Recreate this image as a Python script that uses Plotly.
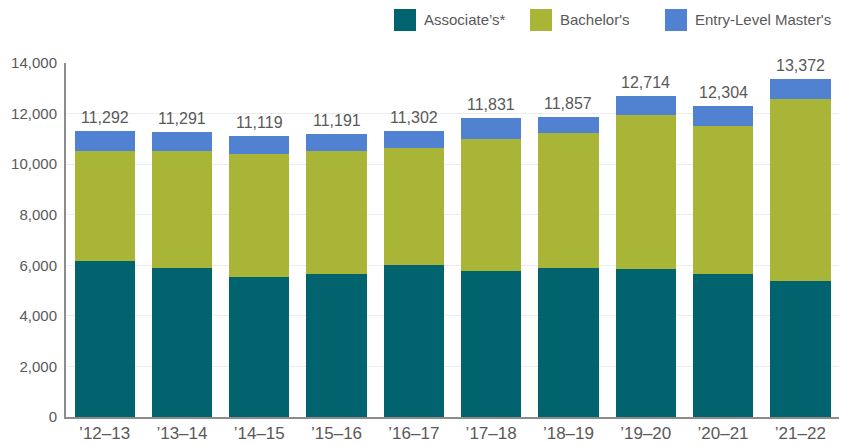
import plotly.graph_objects as go

years = ["’12–13", "’13–14", "’14–15", "’15–16", "’16–17",
         "’17–18", "’18–19", "’19–20", "’20–21", "’21–22"]
associates = [6186, 5910, 5553, 5672, 6000, 5790, 5910, 5870, 5672, 5396]
bachelors = [4342, 4618, 4857, 4856, 4650, 5213, 5330, 6080, 5844, 7186]
masters = [764, 763, 709, 663, 652, 828, 617, 764, 788, 790]
totals = [11292, 11291, 11119, 11191, 11302, 11831, 11857, 12714, 12304, 13372]
series_names = ["Associate’s*", "Bachelor's", "Entry-Level Master's"]
colors = ["#00636E", "#A8B536", "#5182D2"]

FONT = "Liberation Sans, Arial, sans-serif"
TXT = "#595959"

W, H = 841, 445
ML, MR, MT, MB = 66, 2, 63, 28
PW, PH = W - ML - MR, H - MT - MB

fig = go.Figure()
for name, vals, col in zip(series_names, [associates, bachelors, masters], colors):
    fig.add_trace(go.Bar(x=years, y=vals, name=name, marker=dict(color=col, line=dict(width=0)),
                         showlegend=False, hoverinfo="y+name"))

for x, t in zip(years, totals):
    fig.add_annotation(x=x, y=t, text=f"{t:,}", showarrow=False, yanchor="bottom",
                       yshift=3, font=dict(family=FONT, size=16, color=TXT))

# custom legend (pixel positions converted to paper coords)
legend_items = [(394, 422), (530, 558), (665, 693)]
for (sx, tx), name, col in zip(legend_items, series_names, colors):
    fig.add_shape(type="rect", xref="paper", yref="paper",
                  x0=(sx - ML) / PW, x1=(sx + 22 - ML) / PW,
                  y0=(H - MB - 31) / PH, y1=(H - MB - 9) / PH,
                  fillcolor=col, line=dict(width=0))
    fig.add_annotation(xref="paper", yref="paper", x=(tx - ML) / PW, y=(H - MB - 20) / PH,
                       xanchor="left", yanchor="middle", text=name, showarrow=False,
                       font=dict(family=FONT, size=15, color=TXT))

fig.update_layout(
    width=W, height=H,
    margin=dict(l=ML, r=MR, t=MT, b=MB),
    barmode="stack", bargap=0.22,
    plot_bgcolor="white", paper_bgcolor="white",
    font=dict(family=FONT, size=16, color=TXT),
    xaxis=dict(showline=True, linecolor="#8c8c8c", linewidth=2, ticks="",
               tickfont=dict(family=FONT, size=17, color=TXT)),
    yaxis=dict(range=[0, 14000], dtick=2000, tickformat=",", showline=True,
               linecolor="#8c8c8c", linewidth=2, gridcolor="#ececec", gridwidth=1,
               ticks="", ticklabelstandoff=4,
               tickfont=dict(family=FONT, size=15, color=TXT), zeroline=False),
)
fig.write_html("out.html", config={"displayModeBar": False},
               post_script="document.body.style.margin='0';")
